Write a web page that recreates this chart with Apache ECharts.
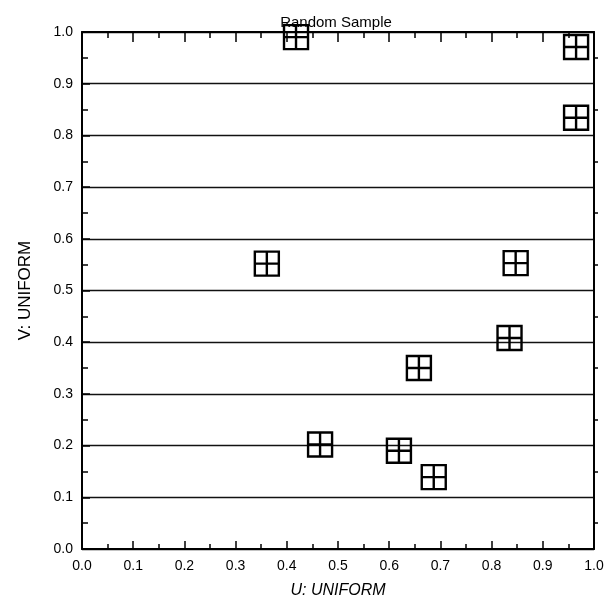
<!DOCTYPE html>
<html>
<head>
<meta charset="utf-8">
<script src="https://cdn.jsdelivr.net/npm/echarts@6/dist/echarts.min.js"></script>
<style>
  html, body { margin: 0; padding: 0; background: #fff; }
  #chart { width: 607px; height: 606px; }
</style>
</head>
<body>
<div id="chart"></div>
<script>
// Random sample of (U, V) pairs, both uniform on [0, 1]
const uValues = [0.418, 0.965, 0.965, 0.361, 0.847, 0.835, 0.658, 0.465, 0.619, 0.687];
const vValues = [0.990, 0.971, 0.834, 0.552, 0.553, 0.408, 0.350, 0.202, 0.190, 0.139];

const titleText = 'Random Sample';
const xName = 'U: UNIFORM';
const yName = 'V: UNIFORM';

const points = uValues.map((u, i) => [u, vValues[i]]);

// boxed-cross marker
const boxCross = 'path://M0,0L10,0L10,10L0,10Z M5,0L5,10 M0,5L10,5';

const font = 'Liberation Sans, Arial, Helvetica, sans-serif';
const fmt = v => v.toFixed(1);

const chart = echarts.init(document.getElementById('chart'), null, { renderer: 'canvas' });

const baseAxis = {
  min: 0, max: 1, interval: 0.1,
  axisLine: { show: true, onZero: false, lineStyle: { color: '#000', width: 2 } },
  axisLabel: { color: '#000', fontFamily: font, fontSize: 14, formatter: fmt },
  axisTick: { show: true, inside: true, length: 8, lineStyle: { color: '#000', width: 1.5 } },
  minorTick: { show: true, splitNumber: 2, length: 5, lineStyle: { color: '#000', width: 1.5 } },
  splitLine: { show: false }
};

chart.setOption({
  backgroundColor: '#fff',
  animation: false,
  title: {
    text: titleText,
    left: 331, top: 10, textAlign: 'center',
    textStyle: { fontFamily: font, fontSize: 15, fontWeight: 'normal', color: '#000' }
  },
  grid: { left: 82, right: 13, top: 32, bottom: 57 },
  xAxis: [
    Object.assign({}, baseAxis, {
      type: 'value', position: 'bottom',
      name: xName, nameLocation: 'middle', nameGap: 34,
      nameTextStyle: { fontFamily: font, fontSize: 16, fontStyle: 'italic', color: '#000' },
      axisLabel: Object.assign({}, baseAxis.axisLabel, { margin: 10 })
    }),
    Object.assign({}, baseAxis, {
      type: 'value', position: 'top',
      axisLabel: { show: false },
      axisTick: { show: true, inside: true, length: 10, lineStyle: { color: '#000', width: 1.5 } },
      minorTick: { show: true, splitNumber: 2, length: 6, lineStyle: { color: '#000', width: 1.5 } }
    })
  ],
  yAxis: [
    Object.assign({}, baseAxis, {
      type: 'value', position: 'left',
      name: yName, nameLocation: 'middle', nameGap: 48,
      nameTextStyle: { fontFamily: font, fontSize: 17, color: '#000' },
      axisLabel: Object.assign({}, baseAxis.axisLabel, { margin: 9 }),
      minorTick: { show: true, splitNumber: 2, length: 6, lineStyle: { color: '#000', width: 1.5 } },
      splitLine: { show: true, lineStyle: { color: '#111', width: 1.3 } }
    }),
    Object.assign({}, baseAxis, {
      type: 'value', position: 'right',
      axisLabel: { show: false },
      axisTick: { show: false },
      minorTick: { show: true, splitNumber: 2, length: 4, lineStyle: { color: '#000', width: 1.5 } }
    })
  ],
  series: [{
    type: 'scatter',
    xAxisIndex: 0, yAxisIndex: 0,
    data: points,
    symbol: boxCross,
    symbolSize: 24,
    symbolKeepAspect: true,
    itemStyle: { color: 'rgba(0,0,0,0)', borderColor: '#000', borderWidth: 2.4, opacity: 1 },
    emphasis: { disabled: true }
  }]
});
</script>
</body>
</html>
